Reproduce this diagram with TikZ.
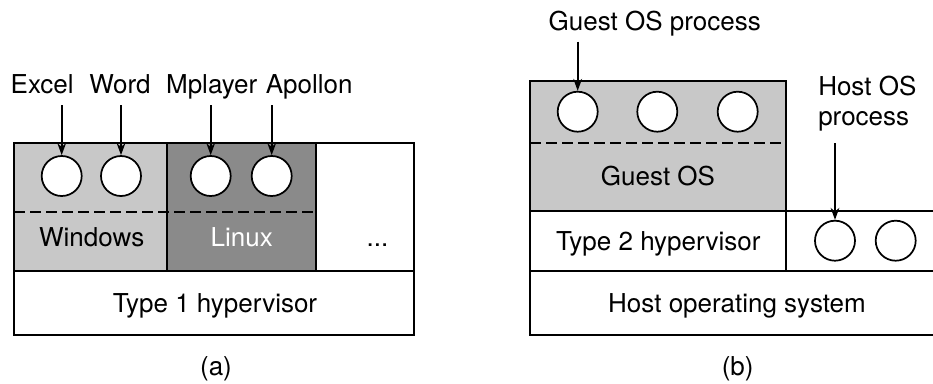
\documentclass[tikz,border=0pt]{standalone}
\usepackage{fontspec}
\setmainfont{TeX Gyre Heros}
\usetikzlibrary{arrows.meta}
\definecolor{lightg}{RGB}{200,200,200}
\definecolor{darkg}{RGB}{138,138,138}
\begin{document}
\begin{tikzpicture}[x=0.75pt,y=-0.75pt,
  box/.style={draw=black,line width=1.4pt},
  proc/.style={circle,draw=black,fill=white,line width=1.3pt,minimum size=30pt,inner sep=0pt},
  lbl/.style={anchor=base,font=\fontsize{19.5}{23}\selectfont,inner sep=0pt},
  sepline/.style={line width=1.3pt,dash pattern=on 8pt off 4pt},
  arr/.style={-{Stealth[length=9pt,width=6.5pt]},line width=1.2pt}]
\clip (0,0) rectangle (933,383);
\fill[white] (0,0) rectangle (933,383);
% ---------- (a) ----------
\filldraw[box,fill=lightg] (14,143) rectangle (167,271);
\filldraw[box,fill=darkg] (167,143) rectangle (316,271);
\draw[box] (316,143) rectangle (414,271);
\draw[box] (14,271) rectangle (414,335);
\draw[sepline] (14,211.7) -- (316,211.7);
\node[proc] (a1) at (61.7,176) {};
\node[proc] (a2) at (121,176) {};
\node[proc] (a3) at (210.7,176) {};
\node[proc] (a4) at (271.7,176) {};
\node[lbl] (excel) at (42.2,93.3) {Excel};
\node[lbl] (word) at (120,93.3) {Word};
\node[lbl] (mplayer) at (211.7,93.3) {Mplayer};
\node[lbl] (apollon) at (309.2,93.3) {Apollon};
\draw[arr,shorten <=8.8pt] (a1 |- excel.base) -- (a1.north);
\draw[arr,shorten <=8.8pt] (a2 |- word.base) -- (a2.north);
\draw[arr,shorten <=8.8pt] (a3 |- mplayer.base) -- (a3.north);
\draw[arr,shorten <=8.8pt] (a4 |- apollon.base) -- (a4.north);
\node[lbl] (windows) at (91.7,246.7) {Windows};
\node[lbl,text=white] (linux) at (241.7,246.7) {Linux};
\node[lbl] (dots) at (377.5,246.7) {...};
\node[lbl] (hyp1) at (215,312.7) {Type 1 hypervisor};
\node[lbl] (capa) at (216,375) {(a)};
% ---------- (b) ----------
\filldraw[box,fill=lightg] (530,80.7) rectangle (786,211);
\draw[box] (530,211) rectangle (786,271);
\draw[box] (786,211) -- (944,211);
\draw[box] (786,271) -- (944,271);
\draw[box] (530,271) rectangle (944,335);
\draw[sepline] (530,143.3) -- (786,143.3);
\node[proc] (g1) at (577.7,111.7) {};
\node[proc] (g2) at (657.3,111.7) {};
\node[proc] (g3) at (737.7,111.7) {};
\node[proc] (h1) at (835,240.7) {};
\node[proc] (h2) at (895.7,240.7) {};
\node[lbl] (guestproc) at (654.7,30) {Guest OS process};
\node[lbl,anchor=base west] (hostl1) at (818,95.7) {Host OS};
\node[lbl,anchor=base west] (hostl2) at (818,125) {process};
\draw[arr,shorten <=8.8pt] (g1 |- guestproc.base) -- (g1.north);
\draw[arr,shorten <=13.7pt] (h1 |- hostl2.base) -- (h1.north);
\node[lbl] (guestos) at (658,185.7) {Guest OS};
\node[lbl] (hyp2) at (658.3,250) {Type 2 hypervisor};
\node[lbl] (hostos) at (737,312.7) {Host operating system};
\node[lbl] (capb) at (737.7,375) {(b)};
\end{tikzpicture}
\end{document}
